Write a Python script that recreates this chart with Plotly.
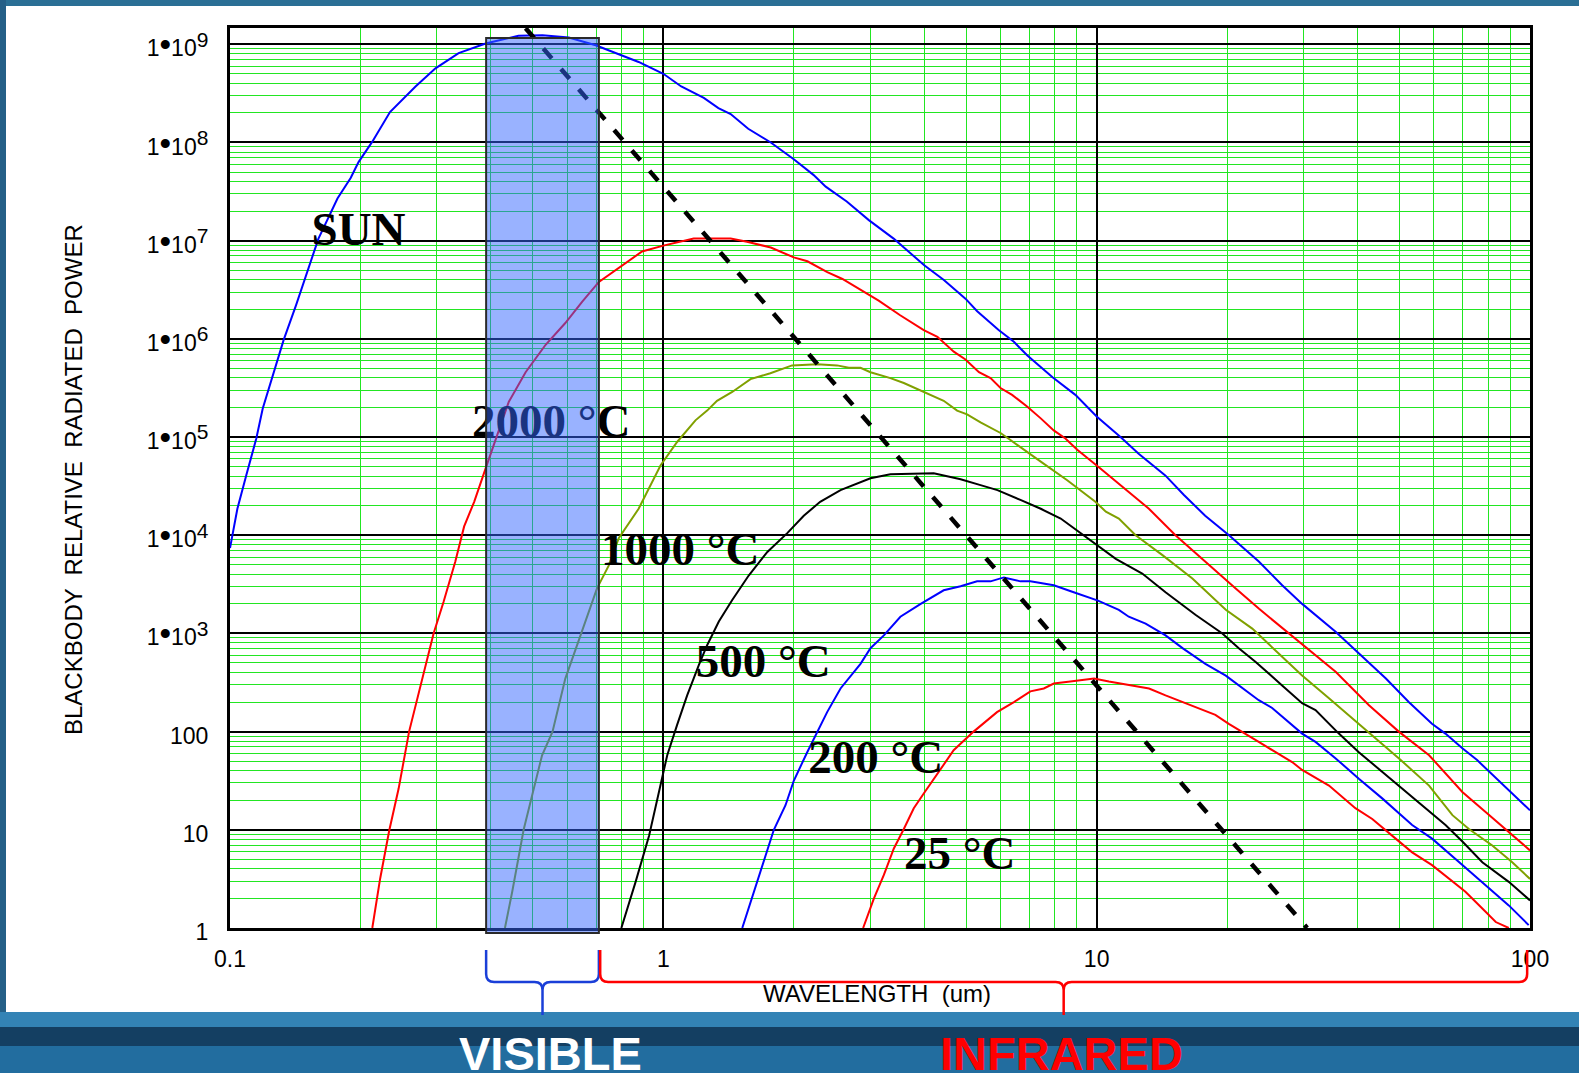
import numpy as np
import plotly.graph_objects as go

# ---- blackbody curves: wavelength (um) and relative radiated power ----
sun_wl = [0.1, 0.104, 0.109, 0.115, 0.119, 0.125, 0.133, 0.142, 0.151, 0.160, 0.177, 0.190, 0.198, 0.213,
          0.234, 0.268, 0.298, 0.337, 0.389, 0.463, 0.526, 0.605, 0.698, 0.748, 0.877, 1.0, 1.10, 1.24,
          1.34, 1.43, 1.57, 1.77, 2.0, 2.22, 2.37, 2.65, 2.98, 3.40, 4.0, 4.44, 4.98, 5.30, 5.94, 6.44,
          6.92, 7.91, 8.93, 10.0, 11.35, 12.5, 14.4, 15.9, 17.8, 20.2, 23.7, 26.8, 29.8, 35.6, 39.5,
          46.5, 52.5, 59.4, 63.8, 69.8, 75.5, 89.3, 100]
sun_pw = [7.4e3, 1.86e4, 4.07e4, 9.66e4, 1.95e5, 3.98e5, 9.77e5, 2.19e6, 4.79e6, 1.05e7, 2.69e7, 4.37e7,
          6.31e7, 1.02e8, 2.04e8, 3.72e8, 5.69e8, 8.13e8, 1.02e9, 1.22e9, 1.24e9, 1.17e9, 9.77e8, 8.71e8,
          6.61e8, 5.01e8, 3.72e8, 2.85e8, 2.24e8, 1.95e8, 1.38e8, 1.0e8, 6.76e7, 4.68e7, 3.55e7, 2.51e7,
          1.62e7, 1.05e7, 5.62e6, 3.98e6, 2.57e6, 1.91e6, 1.23e6, 9.33e5, 6.76e5, 4.07e5, 2.69e5, 1.62e5,
          1.0e5, 6.76e4, 4.07e4, 2.57e4, 1.58e4, 1.0e4, 5.37e3, 3.09e3, 2.0e3, 1.04e3, 676, 347, 200, 120,
          95.5, 67.6, 51.3, 25.1, 15.8]

t2000_wl = [0.213, 0.222, 0.233, 0.245, 0.259, 0.268, 0.282, 0.295, 0.311, 0.331, 0.347, 0.366, 0.389,
            0.403, 0.440, 0.481, 0.535, 0.594, 0.650, 0.710, 0.789, 0.893, 1.0, 1.175, 1.43, 1.56, 1.77,
            2.0, 2.15, 2.39, 2.59, 2.85, 3.14, 3.52, 3.99, 4.29, 4.68, 4.98, 5.35, 5.69, 6.0, 6.38, 6.92,
            7.43, 7.96, 8.47, 9.02, 10.2, 11.9, 13.2, 15.2, 17.8, 20.9, 23.7, 28.2, 32.0, 35.6, 42.5,
            49.8, 58.5, 69.8, 79.1, 89.3, 100]
t2000_pw = [1, 3.16, 9.77, 26.3, 100, 186, 437, 1.0e3, 2.09e3, 5.37e3, 1.23e4, 2.19e4, 4.79e4, 7.41e4,
            2.29e5, 4.57e5, 8.71e5, 1.45e6, 2.40e6, 3.80e6, 5.25e6, 7.76e6, 8.91e6, 1.05e7, 1.05e7,
            9.77e6, 8.51e6, 6.76e6, 6.17e6, 4.79e6, 4.07e6, 3.16e6, 2.45e6, 1.74e6, 1.23e6, 1.05e6,
            7.41e5, 6.17e5, 4.57e5, 3.98e5, 3.16e5, 2.69e5, 2.04e5, 1.55e5, 1.17e5, 9.66e4, 7.41e4,
            4.79e4, 2.75e4, 1.86e4, 1.0e4, 5.37e3, 2.88e3, 1.78e3, 955, 603, 407, 186, 100, 57.5, 24.3,
            15.1, 9.55, 6.17]

t1000_wl = [0.431, 0.448, 0.476, 0.498, 0.525, 0.555, 0.594, 0.644, 0.673, 0.703, 0.748, 0.789, 0.877,
            0.959, 0.985, 1.076, 1.186, 1.262, 1.33, 1.442, 1.589, 1.766, 1.982, 2.265, 2.518, 2.679,
            2.851, 3.006, 3.342, 3.589, 3.99, 4.436, 4.764, 5.023, 5.395, 6.0, 6.324, 6.792, 7.43, 8.551,
            9.931, 10.5, 11.25, 12.3, 14.16, 16.63, 19.86, 22.86, 26.79, 29.79, 34.36, 40.27, 44.77,
            49.77, 58.48, 66.22, 72.28, 81.85, 90.99, 100]
t1000_pw = [1, 2.34, 10, 22.4, 57.5, 100, 347, 955, 1.66e3, 2.88e3, 4.90e3, 9.33e3, 1.86e4, 4.07e4,
            5.13e4, 8.91e4, 1.48e5, 1.86e5, 2.34e5, 2.88e5, 3.89e5, 4.47e5, 5.37e5, 5.50e5, 5.37e5,
            5.07e5, 5.07e5, 4.57e5, 3.98e5, 3.55e5, 2.88e5, 2.34e5, 1.86e5, 1.70e5, 1.41e5, 1.10e5,
            9.33e4, 7.41e4, 5.62e4, 3.63e4, 2.19e4, 1.74e4, 1.48e4, 1.0e4, 6.31e3, 3.63e3, 1.74e3,
            1.12e3, 575, 372, 219, 120, 78.5, 53.7, 28.2, 14.1, 10.2, 6.92, 4.68, 3.16]

t500_wl = [0.80, 0.863, 0.927, 0.985, 1.021, 1.076, 1.135, 1.208, 1.262, 1.343, 1.442, 1.574, 1.738,
           1.932, 2.109, 2.301, 2.564, 3.006, 3.342, 4.207, 4.853, 5.395, 5.902, 6.668, 7.43, 8.26,
           9.183, 10.0, 11.07, 12.74, 14.42, 16.9, 19.5, 21.28, 23.28, 26.79, 29.79, 31.99, 36.22,
           40.27, 44.77, 49.77, 55.34, 63.83, 69.82, 77.62, 89.33, 100]
t500_pw = [1, 2.95, 8.71, 28.2, 57.5, 117, 234, 479, 759, 1.32e3, 2.19e3, 3.89e3, 6.76e3, 1.05e4,
           1.58e4, 2.19e4, 2.88e4, 3.80e4, 4.17e4, 4.27e4, 3.72e4, 3.24e4, 2.88e4, 2.29e4, 1.86e4,
           1.48e4, 1.05e4, 7.94e3, 5.75e3, 4.07e3, 2.63e3, 1.55e3, 1.0e3, 708, 513, 295, 195, 166, 95.5,
           61.7, 41.7, 28.2, 19.1, 11.2, 7.59, 4.68, 2.95, 1.91]

t200_wl = [1.521, 1.589, 1.66, 1.738, 1.799, 1.914, 2.0, 2.148, 2.265, 2.388, 2.564, 2.704, 2.851,
           3.006, 3.228, 3.524, 3.926, 4.436, 4.853, 5.297, 5.689, 6.109, 6.668, 7.031, 7.962, 8.851,
           10.07, 11.25, 11.86, 12.97, 14.42, 15.78, 17.82, 19.86, 22.44, 23.66, 25.41, 27.29, 29.79,
           31.99, 35.56, 40.27, 45.6, 53.46, 59.43, 69.82, 79.07, 89.33, 99.3]
t200_pw = [1, 1.82, 3.47, 6.46, 10, 17.8, 31.6, 61.7, 100, 158, 275, 372, 490, 708, 955, 1.48e3, 2.0e3,
           2.75e3, 3.02e3, 3.39e3, 3.39e3, 3.72e3, 3.39e3, 3.39e3, 3.09e3, 2.63e3, 2.16e3, 1.74e3,
           1.48e3, 1.26e3, 955, 708, 490, 372, 251, 209, 174, 132, 95.5, 78.5, 53.7, 33.1, 20.9, 11.2,
           8.13, 4.37, 2.72, 1.70, 1.07]

t25_wl = [2.891, 3.062, 3.228, 3.404, 3.589, 3.784, 3.99, 4.285, 4.677, 5.2, 5.888, 6.442, 7.031, 7.551,
          7.962, 8.69, 9.863, 10.67, 12.08, 13.21, 14.42, 16.03, 17.54, 18.79, 20.18, 21.68, 23.66,
          25.88, 28.25, 29.79, 34.36, 39.54, 43.25, 48.98, 53.46, 59.43, 65.01, 70.96, 77.62, 83.37,
          89.33]
t25_pw = [1, 2.0, 3.47, 6.46, 10.2, 16.6, 23.4, 37.2, 64.6, 100, 158, 200, 257, 275, 309, 324, 347,
          324, 295, 275, 234, 195, 166, 148, 120, 100, 78.5, 61.7, 49.0, 40.7, 28.2, 16.6, 12.9, 8.13,
          5.89, 4.37, 3.16, 2.34, 1.58, 1.15, 1.0]

# peak-wavelength locus (dashed)
wien_wl = [0.481, 30.6]
wien_pw = [1.46e9, 1.0]

# curve labels
label_text = ["SUN", "2000 °C", "1000 °C", "500 °C", "200 °C", "25 °C"]
label_wl = [0.198, 0.551, 1.094, 1.70, 3.09, 4.83]
label_pw = [1.18e7, 1.31e5, 6.52e3, 471, 49.6, 5.23]

# spectral bands (um)
visible_band = [0.39, 0.71]
infrared_band = [0.715, 98.5]

# axis ticks
x_tickvals = [0.1, 1, 10, 100]
x_ticktext = ["0.1", "1", "10", "100"]
y_tickvals = [1, 10, 100, 1e3, 1e4, 1e5, 1e6, 1e7, 1e8, 1e9]
y_ticktext = ["1", "10", "100"] + [
    "1<span style='font-size:33px'>•</span>10<sup><span style='font-size:21px'>%d</span></sup>" % k
    for k in range(3, 10)]

# ---- layout geometry ----
FIG_W, FIG_H = 1579, 1073
M_L, M_R, M_T, M_B = 230, 49, 28, 145
PLOT_W = FIG_W - M_L - M_R
PLOT_H = FIG_H - M_T - M_B
X_RANGE = [-1, 2]
Y_RANGE = [0, 9.166]


def px_x(px):
    return (px - M_L) / PLOT_W


def px_y(py):
    return (FIG_H - M_B - py) / PLOT_H


def wl_px(wl):
    return M_L + PLOT_W * (np.log10(wl) - X_RANGE[0]) / (X_RANGE[1] - X_RANGE[0])


def brace_path(x_left, x_right, y_top=950, y_bar=982, y_tip=1015, r=8):
    xm = (x_left + x_right) / 2
    pts = [
        ("M", [(x_left, y_top)]),
        ("L", [(x_left, y_bar - r)]),
        ("Q", [(x_left, y_bar), (x_left + r, y_bar)]),
        ("L", [(xm - r, y_bar)]),
        ("Q", [(xm, y_bar), (xm, y_bar + r)]),
        ("L", [(xm, y_tip)]),
        ("L", [(xm, y_bar + r)]),
        ("Q", [(xm, y_bar), (xm + r, y_bar)]),
        ("L", [(x_right - r, y_bar)]),
        ("Q", [(x_right, y_bar), (x_right, y_bar - r)]),
        ("L", [(x_right, y_top)]),
    ]
    out = []
    for cmd, coords in pts:
        out.append(cmd + " ".join("%.5f,%.5f" % (px_x(a), px_y(b)) for a, b in coords))
    return " ".join(out)


fig = go.Figure()

curves = [
    (sun_wl, sun_pw, "#0000ff"),
    (t2000_wl, t2000_pw, "#ff0000"),
    (t1000_wl, t1000_pw, "#80a000"),
    (t500_wl, t500_pw, "#000000"),
    (t200_wl, t200_pw, "#0000ff"),
    (t25_wl, t25_pw, "#ff0000"),
]
for wl, pw, col in curves:
    fig.add_trace(go.Scatter(x=wl, y=pw, mode="lines", line=dict(color=col, width=2),
                             hoverinfo="skip"))

fig.add_trace(go.Scatter(x=wien_wl, y=wien_pw, mode="lines",
                         line=dict(color="black", width=4.5, dash="13px,14px"), hoverinfo="skip"))

fig.add_trace(go.Scatter(
    x=label_wl, y=label_pw, mode="text",
    text=["<b>%s</b>" % t for t in label_text],
    textposition="middle center",
    textfont=dict(family="Liberation Serif, Times New Roman, serif", size=47, color="black"),
    hoverinfo="skip"))

minor_vals = [m * 10.0 ** k for k in range(-1, 9) for m in range(2, 10)]

axis_common = dict(
    type="log", showline=True, mirror=True, linecolor="black", linewidth=3,
    showgrid=True, gridcolor="black", gridwidth=2, zeroline=False,
    ticks="outside", tickcolor="rgba(0,0,0,0)",
    tickfont=dict(family="Liberation Sans, Arial, sans-serif", size=23, color="black"),
    minor=dict(tickmode="array", tickvals=minor_vals, showgrid=True,
               gridcolor="#22e622", gridwidth=1.4, ticks=""),
)

fig.update_xaxes(range=X_RANGE, tickmode="array", tickvals=x_tickvals, ticktext=x_ticktext,
                 ticklen=8, **axis_common)
fig.update_yaxes(range=Y_RANGE, tickmode="array", tickvals=y_tickvals, ticktext=y_ticktext,
                 ticklen=14, ticklabelshift=4, **axis_common)

shapes = []
# slide framing: blue strips and bottom band
left_edge, right_edge = px_x(0), px_x(FIG_W)
top_edge, bottom_edge = px_y(0), px_y(FIG_H)
shapes.append(dict(type="rect", xref="paper", yref="paper", x0=left_edge, x1=right_edge,
                   y0=px_y(6), y1=top_edge, fillcolor="#2a6f95", line_width=0, layer="below"))
shapes.append(dict(type="rect", xref="paper", yref="paper", x0=left_edge, x1=px_x(6),
                   y0=bottom_edge, y1=top_edge, fillcolor="#245f87", line_width=0, layer="below"))
band = [(1012, 1027, "#3383b5"), (1027, 1046, "#143f62"), (1046, 1073, "#226d9f")]
for y0, y1, col in band:
    shapes.append(dict(type="rect", xref="paper", yref="paper", x0=left_edge, x1=right_edge,
                       y0=px_y(y1), y1=px_y(y0), fillcolor=col, line_width=0, layer="below"))

# visible band box over the plot
shapes.append(dict(type="rect", xref="x", yref="paper", x0=visible_band[0], x1=visible_band[1],
                   y0=px_y(933), y1=px_y(38), fillcolor="rgba(51,102,255,0.5)",
                   line=dict(color="#2a2a2a", width=2), layer="above"))

# braces under the axis
shapes.append(dict(type="path", xref="paper", yref="paper",
                   path=brace_path(wl_px(visible_band[0]), wl_px(visible_band[1])),
                   line=dict(color="#1a3fd8", width=2.5), fillcolor="rgba(0,0,0,0)"))
shapes.append(dict(type="path", xref="paper", yref="paper",
                   path=brace_path(wl_px(infrared_band[0]), wl_px(infrared_band[1])),
                   line=dict(color="#ff0000", width=2.5), fillcolor="rgba(0,0,0,0)"))

annotations = [
    dict(text="WAVELENGTH \u00a0(um)", xref="paper", yref="paper", x=px_x(877), y=px_y(993.5),
         xanchor="center", yanchor="middle", showarrow=False,
         font=dict(family="Liberation Sans, Arial, sans-serif", size=24, color="black")),
    dict(text="BLACKBODY \u00a0RELATIVE \u00a0RADIATED \u00a0POWER", xref="paper", yref="paper",
         x=px_x(73), y=px_y(480), xanchor="center", yanchor="middle", textangle=-90,
         showarrow=False, font=dict(family="Liberation Sans, Arial, sans-serif", size=24,
                                    color="black")),
    dict(text="<b>VISIBLE</b>", xref="paper", yref="paper",
         x=px_x((wl_px(visible_band[0]) + wl_px(visible_band[1])) / 2 + 8), y=px_y(1025),
         xanchor="center", yanchor="top", showarrow=False,
         font=dict(family="Liberation Sans, Arial, sans-serif", size=47, color="white")),
    dict(text="<b>INFRARED</b>", xref="paper", yref="paper",
         x=px_x((wl_px(infrared_band[0]) + wl_px(infrared_band[1])) / 2 - 2), y=px_y(1025),
         xanchor="center", yanchor="top", showarrow=False,
         font=dict(family="Liberation Sans, Arial, sans-serif", size=47, color="#ff0000")),
]

fig.update_layout(
    width=FIG_W, height=FIG_H,
    margin=dict(l=M_L, r=M_R, t=M_T, b=M_B),
    paper_bgcolor="white", plot_bgcolor="white",
    showlegend=False,
    shapes=shapes, annotations=annotations,
)

fig.write_html("out.html")
